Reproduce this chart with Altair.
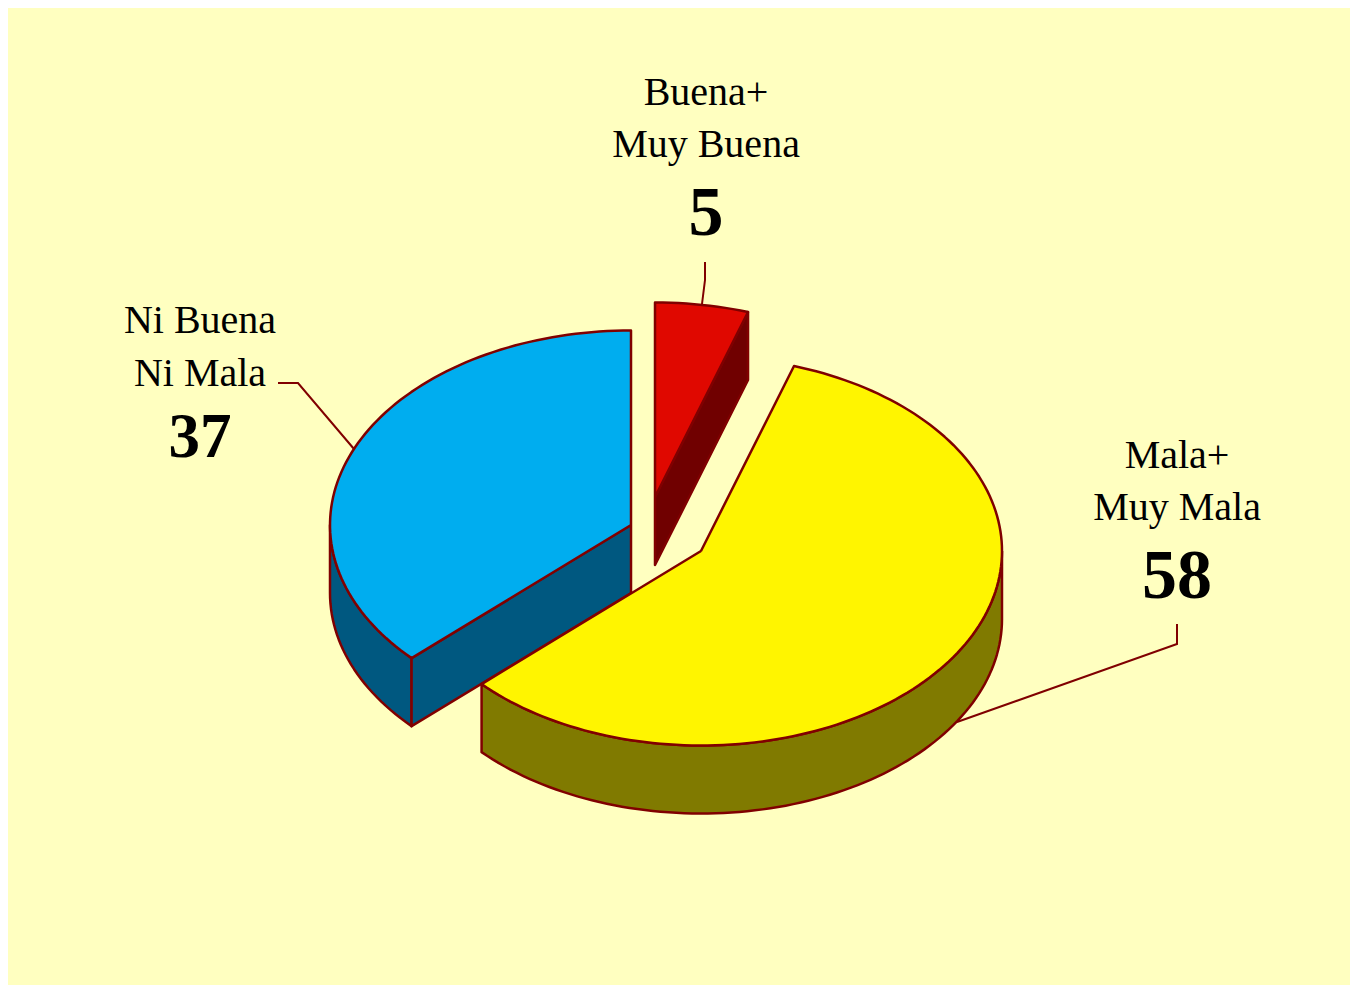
import math
import altair as alt
import pandas as pd

# --- chart values ---
categories = ["Buena+ Muy Buena", "Mala+ Muy Mala", "Ni Buena Ni Mala"]
values = [5, 58, 37]
label_lines = [["Buena+", "Muy Buena"], ["Mala+", "Muy Mala"], ["Ni Buena", "Ni Mala"]]

top_colors = ["#E00800", "#FFF500", "#00ADEF"]
side_colors = ["#700000", "#807A00", "#005880"]
EDGE = "#800000"
BG = "#FFFFC0"

# --- layout, in picture units ---
W, H = 1342, 977
RX, RY, DEPTH = 301, 194.5, 68
apexes = [(655, 497), (701, 551), (631, 525)]
label_x = [706, 1177, 200]
line_base = [[105, 157], [468, 520], [333, 386]]
num_base = [235, 598, 457]
num_size = [70, 70, 63]
leaders = [
    [(705, 262), (705, 280), (702, 304)],
    [(1177, 624), (1177, 644), (957, 722)],
    [(278, 383), (298, 383), (354, 449)],
]

x_scale = alt.Scale(domain=[8, 8 + W], nice=False, zero=False)
y_scale = alt.Scale(domain=[8 + H, 8], nice=False, zero=False)


def pt(apex, deg, drop=0):
    a = math.radians(deg)
    return (apex[0] + RX * math.sin(a), apex[1] - RY * math.cos(a) + drop)


def arc_pts(apex, a0, a1, drop=0):
    n = max(2, int(abs(a1 - a0) / 1.5) + 1)
    return [pt(apex, a0 + (a1 - a0) * i / (n - 1), drop) for i in range(n)]


def poly(points, fill):
    pts = list(points) + [points[0]]
    df = pd.DataFrame({"x": [p[0] for p in pts], "y": [p[1] for p in pts], "i": range(len(pts))})
    return (
        alt.Chart(df)
        .mark_line(fill=fill, stroke=EDGE, strokeWidth=2.5, strokeJoin="round", interpolate="linear")
        .encode(
            x=alt.X("x:Q", scale=x_scale, axis=None),
            y=alt.Y("y:Q", scale=y_scale, axis=None),
            order="i:Q",
        )
    )


def wall(apex, a0, a1, fill):
    top = arc_pts(apex, a0, a1)
    bottom = arc_pts(apex, a1, a0, DEPTH)
    return poly(top + bottom, fill)


def cut(apex, a, fill):
    o = pt(apex, a)
    return poly([apex, o, (o[0], o[1] + DEPTH), (apex[0], apex[1] + DEPTH)], fill)


total = sum(values)
spans = []
start = 0.0
for v in values:
    end = start + 360.0 * v / total
    spans.append((start, end))
    start = end

layers = []

# red slice
a0, a1 = spans[0]
layers.append(cut(apexes[0], a1, side_colors[0]))
layers.append(poly([apexes[0]] + arc_pts(apexes[0], a0, a1), top_colors[0]))

# blue slice
a0, a1 = spans[2]
layers.append(wall(apexes[2], a0, 270, side_colors[2]))
layers.append(cut(apexes[2], a0, side_colors[2]))
layers.append(poly([apexes[2]] + arc_pts(apexes[2], a0, a1), top_colors[2]))

# yellow slice
a0, a1 = spans[1]
layers.append(wall(apexes[1], 90, a1, side_colors[1]))
layers.append(poly([apexes[1]] + arc_pts(apexes[1], a0, a1), top_colors[1]))

# leader lines
for lead in leaders:
    df = pd.DataFrame({"x": [p[0] for p in lead], "y": [p[1] for p in lead], "i": range(len(lead))})
    layers.append(
        alt.Chart(df)
        .mark_line(stroke=EDGE, strokeWidth=2)
        .encode(
            x=alt.X("x:Q", scale=x_scale, axis=None),
            y=alt.Y("y:Q", scale=y_scale, axis=None),
            order="i:Q",
        )
    )

# labels
rows = []
for i, lines in enumerate(label_lines):
    for t, b in zip(lines, line_base[i]):
        rows.append({"x": label_x[i], "y": b, "t": t})
num_rows = [
    {"x": label_x[i], "y": num_base[i], "t": str(values[i]), "s": num_size[i]}
    for i in range(len(values))
]

layers.append(
    alt.Chart(pd.DataFrame(rows))
    .mark_text(font="Liberation Serif", fontSize=40, color="#000000", align="center", baseline="alphabetic")
    .encode(
        x=alt.X("x:Q", scale=x_scale, axis=None),
        y=alt.Y("y:Q", scale=y_scale, axis=None),
        text="t:N",
    )
)
layers.append(
    alt.Chart(pd.DataFrame(num_rows))
    .mark_text(font="Liberation Serif", fontWeight="bold", color="#000000", align="center", baseline="alphabetic")
    .encode(
        x=alt.X("x:Q", scale=x_scale, axis=None),
        y=alt.Y("y:Q", scale=y_scale, axis=None),
        size=alt.Size("s:Q", scale=None),
        text="t:N",
    )
)

chart = (
    alt.layer(*layers)
    .properties(width=W, height=H, background=BG, padding=0)
    .configure_view(stroke=None)
)

chart.save("out.html", embed_options={"renderer": "svg", "actions": False})
